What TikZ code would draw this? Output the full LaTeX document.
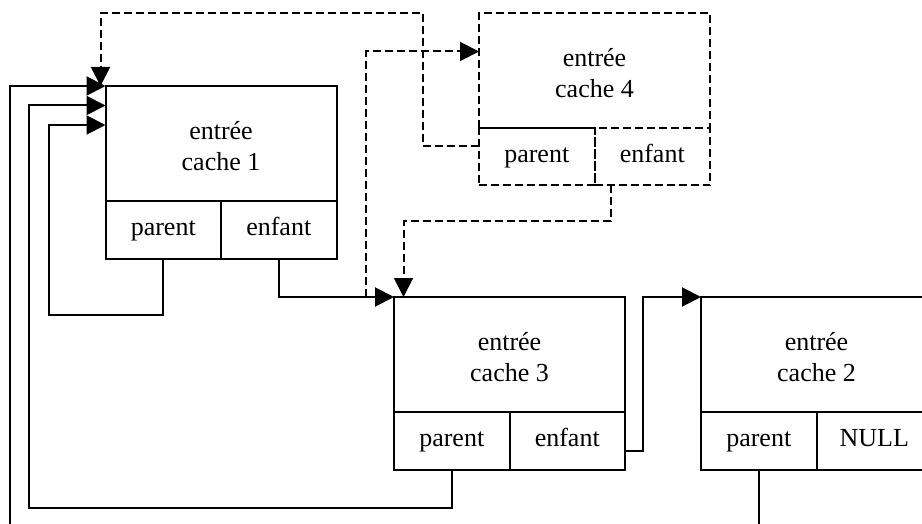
\documentclass[tikz,border=0pt]{standalone}
\usepackage{fontspec}
\setmainfont{Liberation Serif}
\usetikzlibrary{arrows.meta}

\tikzset{
  boxline/.style={line width=2pt},
  head/.style={boxline, draw, rectangle, anchor=north west, inner sep=0pt, outer sep=0pt,
               minimum width=231pt, minimum height=115pt},
  cell/.style={boxline, draw, rectangle, anchor=north west, inner sep=0pt, outer sep=0pt,
               minimum width=115.5pt, minimum height=57.5pt,
               text height=17pt, text depth=5pt,
               font=\fontsize{26pt}{31pt}\selectfont},
  lbl/.style={align=center, inner sep=0pt, font=\fontsize{26pt}{31pt}\selectfont},
  ghost/.style={dash pattern=on 8pt off 4pt},
  link/.style={boxline, -{Triangle[length=19pt,width=19pt]}},
  dlink/.style={link, ghost},
}

\begin{document}
\begin{tikzpicture}[x=1pt, y=-1pt]
  \useasboundingbox[fill=white] (0,0) rectangle (922,524);

  % cache entry 1
  \node[head] (c1) at (105.5,86) {};
  \node[lbl] (t1) at ([yshift=-3pt]c1.center) {entrée\\cache 1};
  \node[cell] (c1p) at (c1.south west) {parent};
  \node[cell] (c1e) at (c1p.north east) {enfant};

  % cache entry 4 (dashed)
  \node[head, ghost] (c4) at (479,13) {};
  \node[lbl] (t4) at ([yshift=-3pt]c4.center) {entrée\\cache 4};
  \node[cell, ghost] (c4p) at (c4.south west) {parent};
  \node[cell, ghost] (c4e) at (c4p.north east) {enfant};

  % cache entry 3
  \node[head] (c3) at (394,297) {};
  \node[lbl] (t3) at ([yshift=-3pt]c3.center) {entrée\\cache 3};
  \node[cell] (c3p) at (c3.south west) {parent};
  \node[cell] (c3e) at (c3p.north east) {enfant};

  % cache entry 2
  \node[head] (c2) at (701,297) {};
  \node[lbl] (t2) at ([yshift=-3pt]c2.center) {entrée\\cache 2};
  \node[cell] (c2p) at (c2.south west) {parent};
  \node[cell] (c2e) at (c2p.north east) {NULL};

  % entry points of the arrows
  \coordinate (in1a) at (c1.north west);
  \coordinate (in1b) at ([yshift=-19.5pt]c1.north west);
  \coordinate (in1c) at ([yshift=-39pt]c1.north west);
  \coordinate (top1) at ([xshift=-5pt]c1.north west);
  \coordinate (in3)  at ([xshift=9.5pt]c3.north west);
  \coordinate (in4)  at ([yshift=19pt]c4.west);

  % parent pointers back to entry 1
  \draw[link] (c1p.south) |- (49,315) |- (in1c);
  \draw[link] (c3p.south) |- (29,508) |- (in1b);
  \draw[link] (c2p.south) |- (10,560) |- (in1a);

  % child pointers
  \draw[link] (c1e.south) |- (c3.north west);
  \draw[link] ([yshift=-10pt]c3e.east) -- ++(18,0) |- (c2.north west);

  % links of the dashed entry 4
  \draw[dlink] ([yshift=11pt]c4p.west) -| (423,13) -| (top1);
  \draw[dlink] ([xshift=-28pt]c3.north west) |- (in4);
  \draw[dlink] ([xshift=-41pt]c4e.south) -- ++(0,36) -| (in3);
\end{tikzpicture}
\end{document}
